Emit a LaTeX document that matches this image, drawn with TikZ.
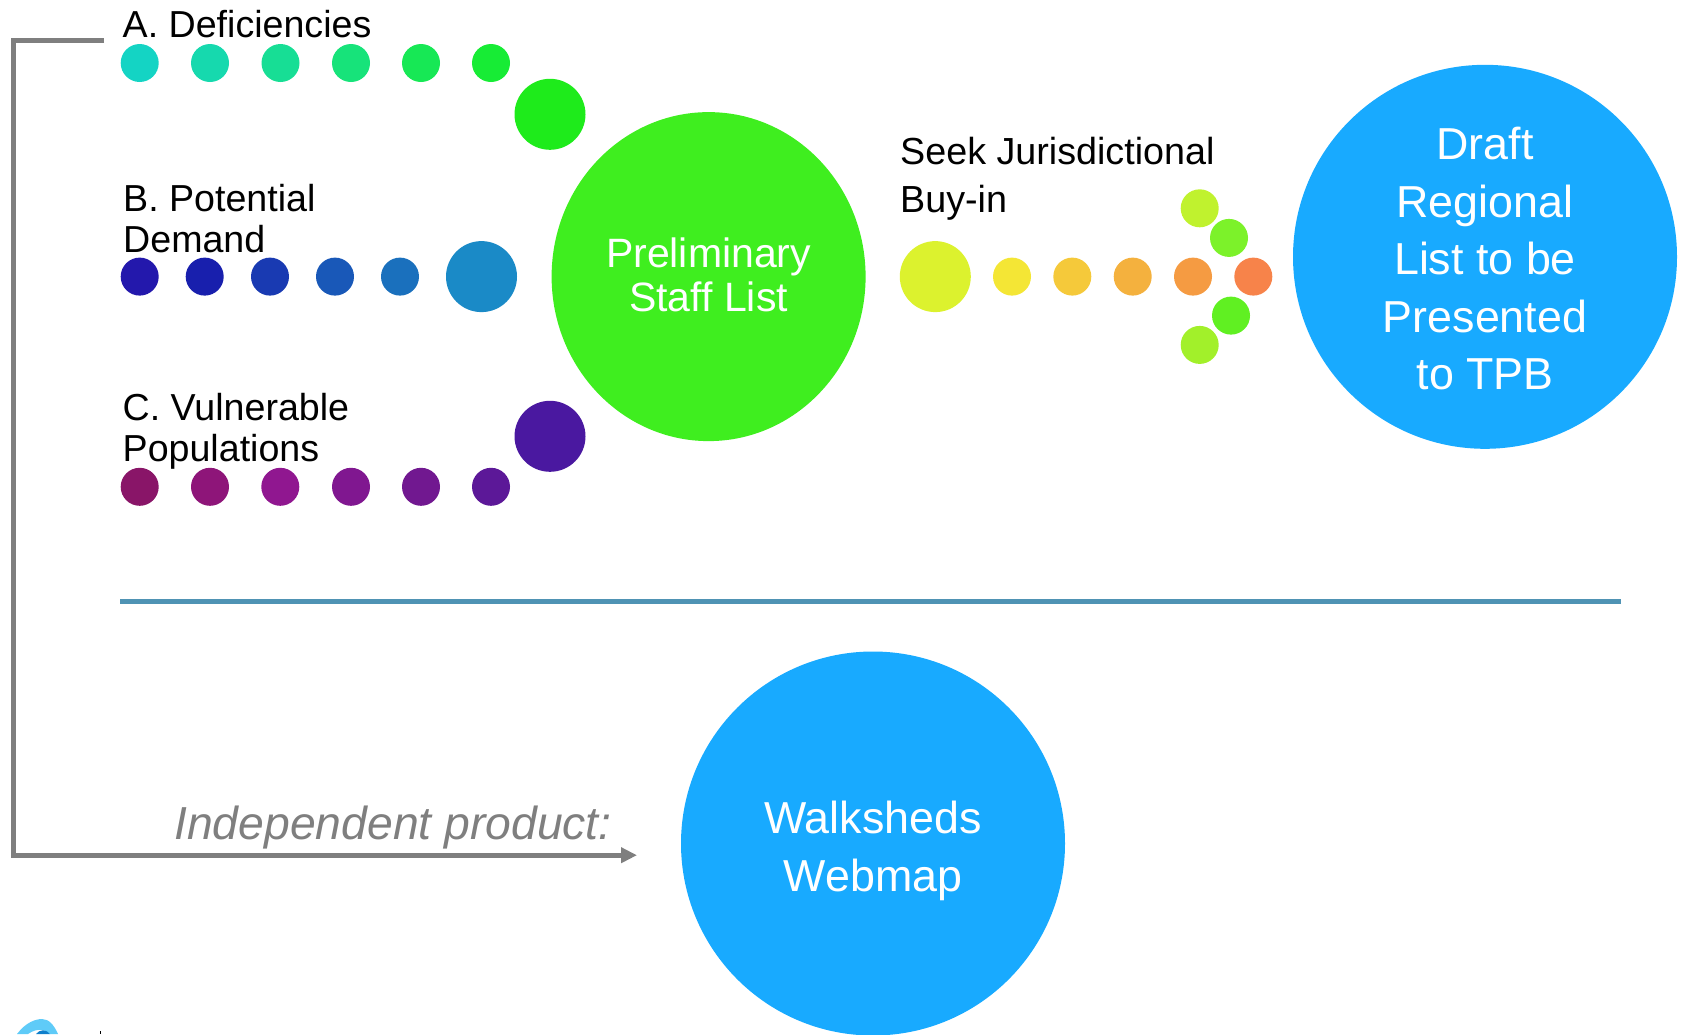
\documentclass[tikz,border=0pt]{standalone}
\usepackage{fontspec}
\setmainfont{Liberation Sans}
\usetikzlibrary{arrows.meta,shapes.geometric}
\definecolor{mainblue}{HTML}{18AAFF}
\definecolor{maingreen}{HTML}{3FEE1F}
\definecolor{railgray}{HTML}{7F7F7F}
\definecolor{rulecol}{HTML}{4F93B4}
\definecolor{logolight}{HTML}{5FCBF8}
\definecolor{logodark}{HTML}{0F7FCB}
\tikzset{
  dotnode/.style={circle,inner sep=0pt,minimum size=38pt,/utils/exec={\definecolor{tmpc}{HTML}{#1}},fill=tmpc},
  bignode/.style={circle,inner sep=0pt,minimum size=71pt,/utils/exec={\definecolor{tmpc}{HTML}{#1}},fill=tmpc},
  lab/.style={anchor=base west,inner sep=0pt,align=left,text=black,font=\fontsize{37.6}{41}\selectfont},
  labwide/.style={anchor=base west,inner sep=0pt,align=left,text=black,font=\fontsize{37.7}{48}\selectfont},
  hugenode/.style={circle,inner sep=0pt,minimum size=384pt,fill=mainblue,text=white,align=center,font=\fontsize{44.8}{57.5}\selectfont},
  rail/.style={draw=railgray,line width=5.2pt,line join=miter}
}
\begin{document}
\begin{tikzpicture}[x=1pt,y=-1pt]
\useasboundingbox (0,0) rectangle (1686,1034);
% row A
\node[dotnode=14D4C4] (a1) at (139.7,63) {};
\node[dotnode=16D9AE] (a2) at (210,63) {};
\node[dotnode=17DE95] (a3) at (280.5,63) {};
\node[dotnode=17E37A] (a4) at (351,63) {};
\node[dotnode=17E855] (a5) at (421,63) {};
\node[dotnode=17EC35] (a6) at (491,63) {};
\node[bignode=1EEB1B] (a7) at (550,114.3) {};
% row B
\node[dotnode=2318AC] (b1) at (139.7,276.6) {};
\node[dotnode=181FAD] (b2) at (204.7,276.6) {};
\node[dotnode=193AB2] (b3) at (270,276.6) {};
\node[dotnode=1958B8] (b4) at (335,276.6) {};
\node[dotnode=1A70BD] (b5) at (400,276.6) {};
\node[bignode=1A8AC7] (b6) at (481.5,276.6) {};
% row C
\node[dotnode=891568] (c1) at (139.7,486.8) {};
\node[dotnode=8E1579] (c2) at (210,486.8) {};
\node[dotnode=901790] (c3) at (280.3,486.8) {};
\node[dotnode=801790] (c4) at (351,486.8) {};
\node[dotnode=711890] (c5) at (421,486.8) {};
\node[dotnode=5C1898] (c6) at (491,486.8) {};
\node[bignode=4A18A0] (c7) at (550,436.3) {};
% buy-in row
\node[bignode=DCF22E] (d0) at (935.3,276.6) {};
\node[dotnode=F4E635] (d1) at (1012,276.6) {};
\node[dotnode=F5C93A] (d2) at (1072.3,276.6) {};
\node[dotnode=F4B13E] (d3) at (1132.7,276.6) {};
\node[dotnode=F59B42] (d4) at (1193,276.6) {};
\node[dotnode=F7834A] (d5) at (1253.3,276.6) {};
\node[dotnode=C0F22E] (e1) at (1199.7,208.3) {};
\node[dotnode=7CF22A] (e2) at (1229,237.9) {};
\node[dotnode=60F022] (e3) at (1231,315.6) {};
\node[dotnode=A2F02A] (e4) at (1199.7,344.9) {};
% labels
\node[lab] (la) at (122.5,37) {A. Deficiencies};
\node[lab] (lb) at (123,252) {B. Potential\\Demand};
\node[lab] (lc) at (122.5,461) {C. Vulnerable\\Populations};
\node[labwide] (ld) at (900,212) {Seek Jurisdictional\\Buy-in};
% main circles
\node[ellipse,inner sep=0pt,minimum width=314pt,minimum height=329pt,fill=maingreen,text=white,align=center,font=\fontsize{41}{44}\selectfont] (staff) at (708.6,276.6) {Preliminary\\Staff List\rule[-3pt]{0pt}{3pt}};
\node[hugenode] (draft) at (1485,256.8) {\rule{0pt}{36pt}Draft\\Regional\\List to be\\Presented\\to TPB};
\node[hugenode] (web) at (873,843.5) {\rule{0pt}{47pt}Walksheds\\Webmap};
% rule
\coordinate (ruleL) at (120,601.3);
\coordinate (ruleR) at (1620.5,601.3);
\draw[rulecol,line width=5.4pt] (ruleL) -- (ruleR);
% bracket
\coordinate (railS) at (104,40.3);
\coordinate (railC) at (13.8,40.3);
\coordinate (railD) at (13.8,855.2);
\coordinate (railE) at (637,855.2);
\draw[rail,-{Triangle[length=16pt,width=15pt]}] (railS) -- (railC) -- (railD) -- (railE);
\node[anchor=base west,inner sep=0pt,text=railgray,font=\fontsize{46.3}{50}\selectfont\itshape] (ind) at (174,839.5) {Independent product:};
% logo fragment cut by the page edge
\fill[logolight] (17,1034) .. controls (26,1022) and (36,1019) .. (42,1019) .. controls (49,1019) and (54,1025) .. (58,1034) -- (50,1034) .. controls (46,1030) and (38,1027) .. (28,1034) -- cycle;
\fill[logodark] (36,1034) .. controls (40,1029) and (46,1029) .. (50,1034) -- cycle;
\draw[black,line width=1.2pt] (100.5,1031) -- (100.5,1034);
\end{tikzpicture}
\end{document}
